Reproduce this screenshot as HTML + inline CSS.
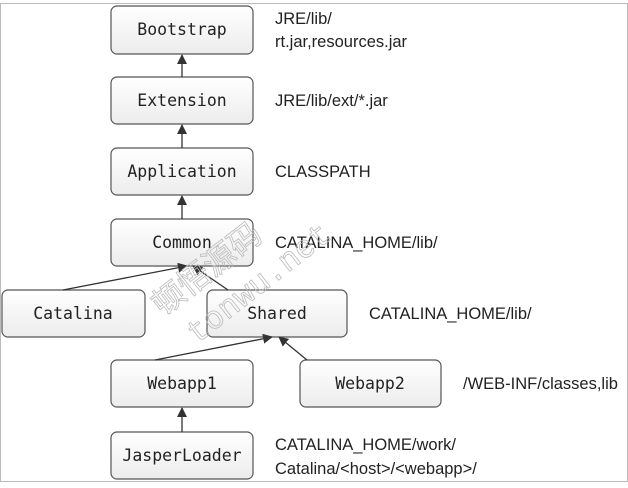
<!DOCTYPE html>
<html><head><style>
body{margin:0;width:628px;height:483px;background:#fff;overflow:hidden}
</style></head><body>
<svg width="628" height="483" xmlns="http://www.w3.org/2000/svg">
<defs>
<linearGradient id="g" x1="0" y1="0" x2="0" y2="1"><stop offset="0" stop-color="#fff"/><stop offset="1" stop-color="#ececec"/></linearGradient>
<marker id="a" markerWidth="10" markerHeight="10" refX="9" refY="5" orient="auto" markerUnits="userSpaceOnUse"><path d="M0,0 L10,5 L0,10 z" fill="#333"/></marker>
</defs>
<rect x="0.5" y="3.5" width="627" height="478" fill="none" stroke="#bbb"/>
<g fill="url(#g)" stroke="#555" stroke-width="1.2">
<rect x="111" y="6" width="142" height="48" rx="6"/>
<rect x="111" y="77" width="142" height="47" rx="6"/>
<rect x="111" y="148" width="142" height="47" rx="6"/>
<rect x="111" y="219" width="142" height="47" rx="6"/>
<rect x="2" y="290" width="143" height="47" rx="6"/>
<rect x="207" y="290" width="140" height="47" rx="6"/>
<rect x="111" y="360" width="142" height="47" rx="6"/>
<rect x="300" y="360" width="141" height="47" rx="6"/>
<rect x="111" y="432" width="142" height="47" rx="6"/>
</g>
<g stroke="#333" stroke-width="1.3" marker-end="url(#a)">
<line x1="182" y1="77" x2="182" y2="55"/>
<line x1="182" y1="148" x2="182" y2="125"/>
<line x1="182" y1="219" x2="182" y2="196"/>
<line x1="182" y1="432" x2="182" y2="408"/>
<line x1="63" y1="290" x2="187" y2="266"/>
<line x1="228" y1="290" x2="193" y2="266"/>
<line x1="155" y1="360" x2="272" y2="337"/>
<line x1="307" y1="360" x2="279" y2="337"/>
</g>
<g font-family="DejaVu Sans Mono, monospace" font-size="16.5" fill="#222" text-anchor="middle">
<text x="182" y="35">Bootstrap</text>
<text x="182" y="106">Extension</text>
<text x="182" y="177">Application</text>
<text x="182" y="248">Common</text>
<text x="73" y="319">Catalina</text>
<text x="277" y="319">Shared</text>
<text x="182" y="389">Webapp1</text>
<text x="370" y="389">Webapp2</text>
<text x="182" y="461">JasperLoader</text>
</g>
<g font-family="Liberation Sans Narrow, Liberation Sans, sans-serif" font-size="16.5" fill="#222">
<text x="275" y="24">JRE/lib/</text>
<text x="275" y="47">rt.jar,resources.jar</text>
<text x="275" y="106">JRE/lib/ext/*.jar</text>
<text x="275" y="177">CLASSPATH</text>
<text x="275" y="248">CATALINA_HOME/lib/</text>
<text x="369" y="319">CATALINA_HOME/lib/</text>
<text x="463" y="389">/WEB-INF/classes,lib</text>
<text x="275" y="450">CATALINA_HOME/work/</text>
<text x="275" y="474">Catalina/&lt;host&gt;/&lt;webapp&gt;/</text>
</g>
<g font-family="Liberation Sans, 'Noto Sans CJK SC', sans-serif" font-size="32" fill="none" stroke="#bbb" stroke-width="0.8" transform="rotate(-38 220 260)">
<text x="140" y="270">顿悟源码</text>
<text x="150" y="312" font-family="Liberation Mono, monospace">tonwu.net</text>
</g>
</svg>
</body></html>
